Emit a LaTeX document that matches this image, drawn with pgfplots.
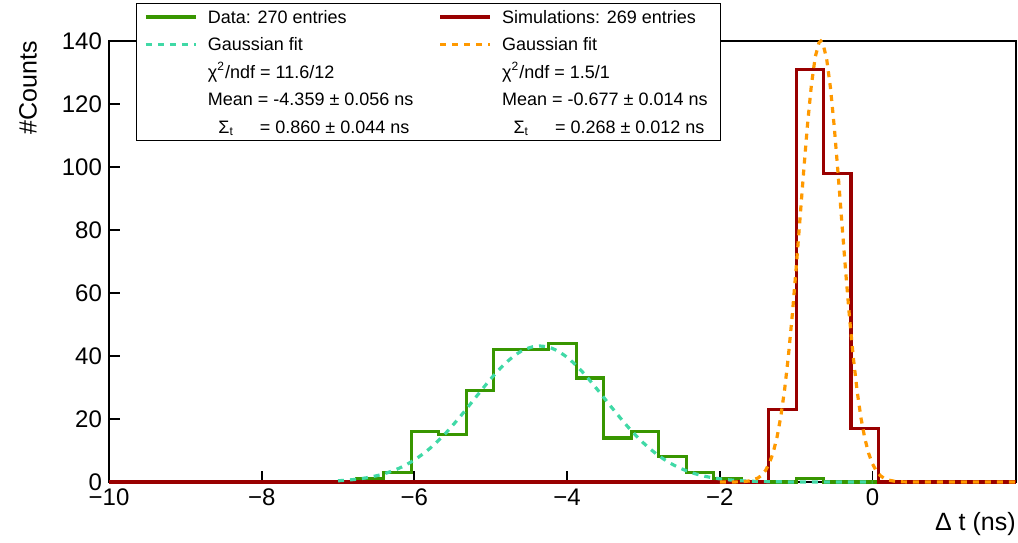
\documentclass[border=0pt]{standalone}
\usepackage{fontspec}
\setmainfont{Liberation Sans}
\usepackage{pgfplots}
\pgfplotsset{compat=1.18}
\usepackage{pgfplotstable}

\definecolor{datagreen}{RGB}{56,150,0}
\definecolor{simred}{RGB}{153,0,0}
\definecolor{fitteal}{RGB}{64,217,166}
\definecolor{fitorange}{RGB}{255,153,0}

% histogram: left bin edge, data counts, simulation counts (bin width 0.36 ns)
\pgfplotstableread{
x data sim
-10.00 0 0
-9.64 0 0
-9.28 0 0
-8.92 0 0
-8.56 0 0
-8.20 0 0
-7.84 0 0
-7.48 0 0
-7.12 0 0
-6.76 1 0
-6.40 3 0
-6.04 16 0
-5.68 15 0
-5.32 29 0
-4.96 42 0
-4.60 42 0
-4.24 44 0
-3.88 33 0
-3.52 14 0
-3.16 16 0
-2.80 8 0
-2.44 3 0
-2.08 1 0
-1.72 0 0
-1.36 0 23
-1.00 1 131
-0.64 0 98
-0.28 0 17
0.08 0 0
0.44 0 0
0.80 0 0
1.16 0 0
1.52 0 0
1.88 0 0
}\histtable

% Gaussian fit to data (sampled)
\pgfplotstableread{
x y
-7.0 0.387
-6.8 0.769
-6.6 1.449
-6.4 2.585
-6.2 4.371
-6.0 7.00
-5.8 10.61
-5.6 15.25
-5.4 20.77
-5.2 26.78
-5.0 32.72
-4.8 37.88
-4.6 41.54
-4.4 43.15
-4.2 42.47
-4.0 39.60
-3.8 34.98
-3.6 29.26
-3.4 23.20
-3.2 17.42
-3.0 12.39
-2.8 8.35
-2.6 5.34
-2.4 3.226
-2.2 1.849
-2.0 1.003
-1.8 0.516
-1.6 0.251
-1.4 0.116
-1.2 0.051
-1.0 0.02
-0.5 0.0
0.0 0.0
}\fitdata

% Gaussian fit to simulation (sampled)
\pgfplotstableread{
x y
-2.0 0.0
-1.9 0.004
-1.8 0.022
-1.7 0.096
-1.6 0.372
-1.5 1.254
-1.45 2.186
-1.4 3.68
-1.35 5.98
-1.3 9.39
-1.25 14.24
-1.2 20.86
-1.15 29.50
-1.1 40.29
-1.05 53.14
-1.0 67.72
-0.95 83.34
-0.9 99.04
-0.85 113.7
-0.8 126.0
-0.75 134.9
-0.7 139.5
-0.677 140.0
-0.65 139.3
-0.6 134.3
-0.55 125.1
-0.5 112.6
-0.45 97.80
-0.4 82.07
-0.35 66.50
-0.3 52.05
-0.25 39.34
-0.2 28.72
-0.15 20.25
-0.1 13.79
-0.05 9.07
0.0 5.76
0.05 3.534
0.1 2.094
0.15 1.198
0.2 0.662
0.3 0.182
0.4 0.044
0.5 0.009
0.6 0.0
1.88 0.0
}\fitsim

\begin{document}
\begin{tikzpicture}
\begin{axis}[
  at={(0,0)}, anchor=south west,
  width=453.5pt, height=220.5pt, scale only axis,
  xmin=-10, xmax=1.88, ymin=0, ymax=140,
  xtick={-10,-8,-6,-4,-2,0},
  xticklabels={−10,−8,−6,−4,−2,0},
  ytick={0,20,40,60,80,100,120,140},
  tick align=inside, major tick length=5.5pt,
  xtick pos=bottom, ytick pos=left,
  axis line style={line width=0.9pt},
  every tick/.style={black, line width=0.9pt},
  tick label style={font=\fontsize{12}{14}\selectfont},
  /pgf/number format/assume math mode=true,
  xlabel={Δ t (ns)}, ylabel={\#Counts},
  label style={font=\fontsize{12.5}{15}\selectfont},
  xlabel style={at={(axis description cs:1,-0.111)}, anchor=base east, inner sep=0pt},
  ylabel style={at={(axis description cs:-0.0893,1)}, anchor=east, inner sep=0pt},
  clip=false,
  legend columns=2,
  legend cell align=left,
  legend image code/.code={\draw[#1] (0pt,0pt) -- (25pt,0pt);},
  legend style={at={(axis description cs:0.0294,1.0862)}, anchor=north west,
    draw=black, line width=0.6pt, fill=white,
    inner xsep=4pt, inner ysep=1.95pt,
    column sep=5.25pt, row sep=4.15pt,
    font=\fontsize{9}{10.8}\selectfont,
    nodes={inner sep=0pt, text height=8pt, text depth=1.6pt}},
]
\addplot[const plot, color=datagreen, line width=1.6pt, forget plot] table[x=x, y=data] {\histtable};
\addplot[const plot, color=simred, line width=1.6pt, forget plot] table[x=x, y=sim] {\histtable};
\addplot[smooth, color=fitteal, line width=1.6pt, dash pattern=on 3pt off 3pt, forget plot] table[x=x, y=y] {\fitdata};
\addplot[color=fitorange, line width=1.6pt, dash pattern=on 3pt off 3pt, forget plot] table[x=x, y=y] {\fitsim};

\addlegendimage{color=datagreen, line width=1.6pt}
\addlegendentry{\makebox[110pt][l]{Data: 270 entries}}
\addlegendimage{color=simred, line width=1.6pt}
\addlegendentry{\makebox[105pt][l]{Simulations: 269 entries}}
\addlegendimage{color=fitteal, line width=1.6pt, dash pattern=on 3pt off 3pt}
\addlegendentry{\makebox[110pt][l]{Gaussian fit}}
\addlegendimage{color=fitorange, line width=1.6pt, dash pattern=on 3pt off 3pt}
\addlegendentry{\makebox[105pt][l]{Gaussian fit}}
\addlegendimage{empty legend}
\addlegendentry{\makebox[110pt][l]{χ\textsuperscript{2}/ndf = 11.6/12}}
\addlegendimage{empty legend}
\addlegendentry{\makebox[105pt][l]{χ\textsuperscript{2}/ndf = 1.5/1}}
\addlegendimage{empty legend}
\addlegendentry{\makebox[110pt][l]{Mean = -4.359 ± 0.056 ns}}
\addlegendimage{empty legend}
\addlegendentry{\makebox[105pt][l]{Mean = -0.677 ± 0.014 ns}}
\addlegendimage{empty legend}
\addlegendentry{\makebox[110pt][l]{\hspace*{5.25pt}Σ\textsubscript{t}\hspace*{13pt}= 0.860 ± 0.044 ns}}
\addlegendimage{empty legend}
\addlegendentry{\makebox[105pt][l]{\hspace*{5.7pt}Σ\textsubscript{t}\hspace*{13pt}= 0.268 ± 0.012 ns}}
\end{axis}
\pgfresetboundingbox
\path[use as bounding box] (-54.5pt,-30pt) rectangle (454.5pt,241pt);
\end{tikzpicture}
\end{document}
